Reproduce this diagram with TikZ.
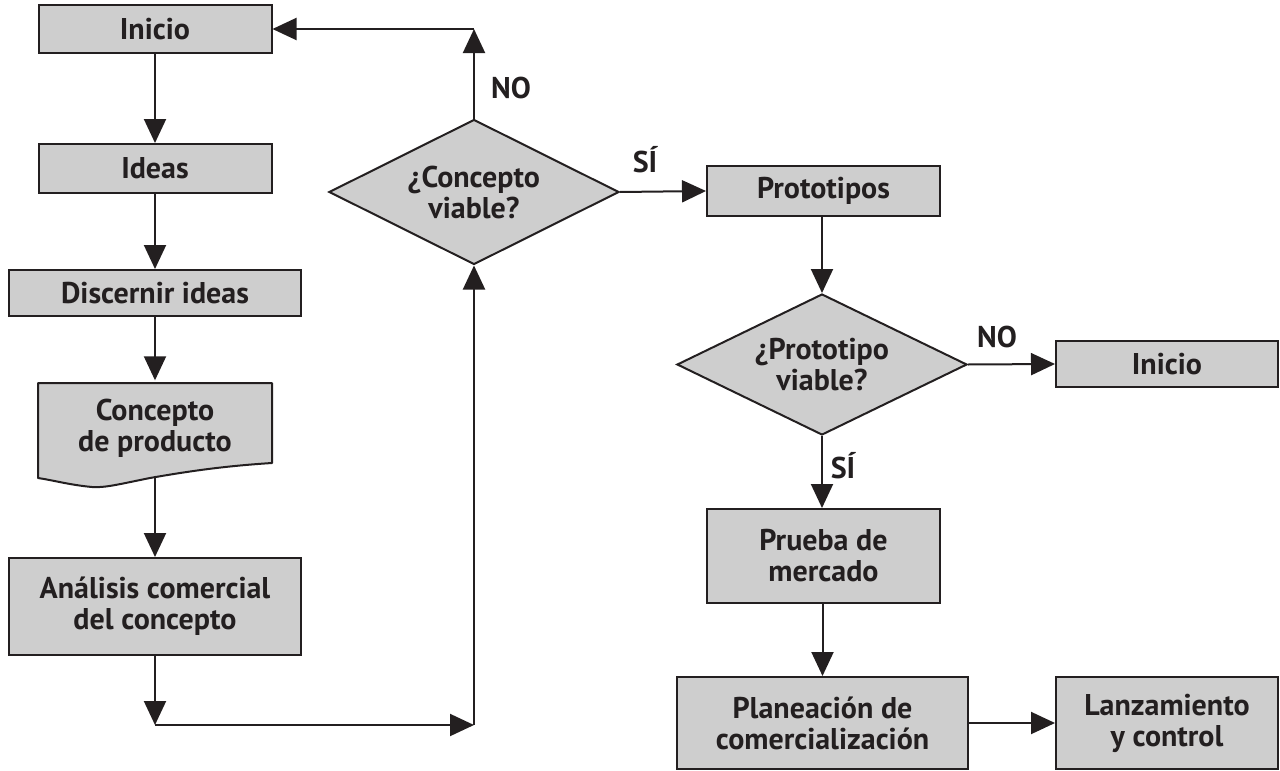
\documentclass[tikz,border=0pt]{standalone}
\usepackage{fontspec}
\setmainfont{PT Sans}
\usetikzlibrary{arrows.meta,shapes.geometric}
\definecolor{boxfill}{RGB}{206,206,206}
\definecolor{ink}{RGB}{35,31,32}
\begin{document}
\begin{tikzpicture}[x=1pt,y=-1pt,
  txt/.style={font=\fontsize{30}{31}\selectfont\bfseries, text=ink},
  box/.style={txt, draw=ink, line width=2pt, fill=boxfill, rectangle, inner sep=0pt, align=center},
  dec/.style={txt, draw=ink, line width=2pt, fill=boxfill, diamond, inner sep=0pt, align=center, aspect=2},
  lbl/.style={txt},
  arr/.style={draw=ink, line width=2pt, -{Triangle[length=24pt,width=22pt]}},
  ln/.style={draw=ink, line width=2pt}]
\useasboundingbox (0,0) rectangle (1280,771);
% left column
\node[box, minimum width=233, minimum height=48] (inicio) at (155,29) {Inicio};
\node[box, minimum width=233, minimum height=49] (ideas) at (155,168.5) {Ideas};
\node[box, minimum width=292, minimum height=46] (discernir) at (155,293) {Discernir ideas};
\fill[boxfill] (38,383) -- (272,383) -- (272,463)
  .. controls (225,466) and (190,471) .. (150,478)
  .. controls (120,484) and (105,488) .. (92,487)
  .. controls (70,485) and (52,480) .. (38,478) -- cycle;
\draw[ink, line width=2pt, line join=round] (38,383) -- (272,383) -- (272,463)
  .. controls (225,466) and (190,471) .. (150,478)
  .. controls (120,484) and (105,488) .. (92,487)
  .. controls (70,485) and (52,480) .. (38,478) -- cycle;
\node[txt, align=center, minimum width=234, minimum height=95, inner sep=0pt] (concepto) at (155,428) {Concepto\\de producto};
\node[box, minimum width=292, minimum height=97] (analisis) at (155,606.5) {Análisis comercial\\del concepto};
% decisions and right column
\node[dec, minimum width=290, minimum height=145] (cv) at (474,192) {¿Concepto\\viable?};
\node[box, minimum width=233, minimum height=50] (proto) at (823.5,191) {Prototipos};
\node[dec, minimum width=290, minimum height=141] (pv) at (822,364.5) {¿Prototipo\\viable?};
\node[box, minimum width=222, minimum height=46] (inicio2) at (1167,364) {Inicio};
\node[box, minimum width=233, minimum height=94] (prueba) at (823.5,556) {Prueba de\\mercado};
\node[box, minimum width=291, minimum height=92] (plan) at (822.5,723) {Planeación de\\comercialización};
\node[box, minimum width=222, minimum height=92] (lanz) at (1167,723) {Lanzamiento\\y control};
% coordinates
\coordinate (c1) at (155,725);
\coordinate (c2) at (474,725);
\coordinate (c3) at (474,29);
% connectors
\draw[arr] (inicio) -- (ideas);
\draw[arr] (ideas) -- (discernir);
\draw[arr] (discernir) -- (concepto);
\draw[arr] (concepto.south) -- (analisis);
\draw[arr] (analisis.south) -- (c1);
\draw[arr] (c1) -- (c2);
\draw[arr] (c2) -- (cv.south);
\draw[arr] (cv.north) -- (c3);
\draw[arr] (c3) -- (inicio.east);
\draw[arr] (cv.east) -- (proto.west);
\draw[arr] (proto.south -| pv.north) -- (pv.north);
\draw[arr] (pv.east) -- (inicio2.west);
\draw[arr] (pv.south) -- (prueba.north -| pv.south);
\draw[arr] (prueba.south -| plan.north) -- (plan.north);
\draw[arr] (plan.east) -- (lanz.west);
% labels
\node[lbl] (no1) at (511,88) {NO};
\node[lbl] (si1) at (645,160) {SÍ};
\node[lbl] (no2) at (997,337) {NO};
\node[lbl] (si2) at (843,466) {SÍ};
\end{tikzpicture}
\end{document}
